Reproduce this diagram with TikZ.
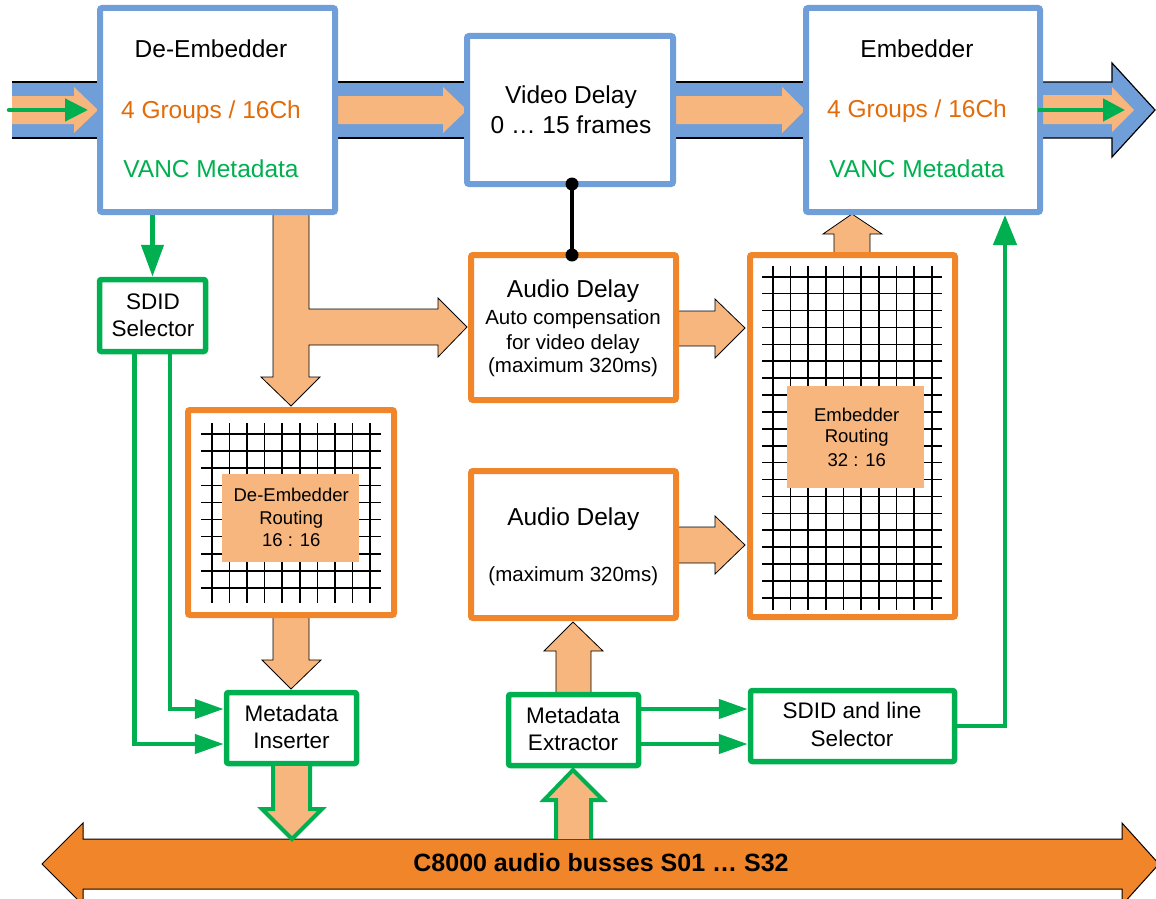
\documentclass[tikz,border=0pt]{standalone}
\usepackage{fontspec}
\setmainfont{Liberation Sans}
\usetikzlibrary{arrows.meta,calc}
\definecolor{cblue}{RGB}{112,158,216}
\definecolor{corange}{RGB}{241,133,41}
\definecolor{clorange}{RGB}{247,182,125}
\definecolor{cgreen}{RGB}{0,176,80}
\definecolor{ctorange}{RGB}{227,108,10}
\begin{document}
\begin{tikzpicture}[x=1pt,y=-1pt,
  bluebox/.style={draw=cblue,line width=6pt,fill=white,rounded corners=2pt,inner sep=0pt},
  orbox/.style={draw=corange,line width=6pt,fill=white,rounded corners=2pt,inner sep=0pt},
  grbox/.style={draw=cgreen,line width=5.5pt,fill=white,rounded corners=2pt,inner sep=0pt},
  lablbox/.style={fill=clorange,inner sep=0pt},
  fatarrow/.style={fill=clorange,draw=black,line width=0.8pt,line join=miter},
  garrow/.style={draw=cgreen,line width=4.5pt},
  gridline/.style={line width=1.6pt,black},
  bandedge/.style={line width=1.2pt,black},
  txtL/.style={anchor=base,inner sep=0pt,font=\fontsize{24.5}{29}\selectfont},
  txtM/.style={anchor=base,inner sep=0pt,font=\fontsize{22.5}{27}\selectfont},
  txtS/.style={anchor=base,inner sep=0pt,font=\fontsize{20.5}{25}\selectfont},
  txtR/.style={anchor=base,inner sep=0pt,font=\fontsize{18.5}{22}\selectfont},
  txtB/.style={anchor=base,inner sep=0pt,font=\fontsize{25}{30}\selectfont\bfseries}
]
\useasboundingbox (0,0) rectangle (1156,899);

% ---- video bands
\fill[cblue] (12,82) rectangle (100,138);
\draw[bandedge] (12,82) -- (100,82) (12,138) -- (100,138);
\fill[cblue] (335,82) rectangle (467,138);
\draw[bandedge] (335,82) -- (467,82) (335,138) -- (467,138);
\fill[cblue] (673,82) rectangle (806,138);
\draw[bandedge] (673,82) -- (806,82) (673,138) -- (806,138);
\filldraw[fill=cblue,draw=black,line width=1.2pt,line join=miter]
  (1040,82) -- (1112,82) -- (1112,63) -- (1155,110) -- (1112,157) -- (1112,138) -- (1040,138);

% ---- orange audio arrows in bands
\fill[clorange] (12,96) -- (74,96) -- (74,87) -- (98,110) -- (74,133) -- (74,124) -- (12,124) -- cycle;
\fill[clorange] (335,96) -- (443,96) -- (443,87) -- (467,110) -- (443,133) -- (443,124) -- (335,124) -- cycle;
\fill[clorange] (673,96) -- (782,96) -- (782,87) -- (805,110) -- (782,133) -- (782,124) -- (673,124) -- cycle;
\fill[clorange] (1040,95) -- (1112,95) -- (1112,87) -- (1134,110) -- (1112,132) -- (1112,124) -- (1040,124) -- cycle;

% ---- fat orange arrows
\draw[fatarrow] (273,212) -- (273,377) -- (261,377) -- (291,406) -- (320,377) -- (309,377) -- (309,345)
  -- (438,345) -- (438,357) -- (467,327) -- (438,298) -- (438,309) -- (309,309) -- (309,212) -- cycle;
\draw[fatarrow] (273,612) -- (273,660) -- (262,660) -- (291,689) -- (321,660) -- (309,660) -- (309,612) -- cycle;
\draw[fatarrow] (673,311) -- (715,311) -- (715,299) -- (745,328) -- (715,358) -- (715,346) -- (673,346) -- cycle;
\draw[fatarrow] (673,527) -- (715,527) -- (715,516) -- (745,545) -- (715,574) -- (715,563) -- (673,563) -- cycle;
\draw[fatarrow] (834,258) -- (834,234) -- (823,234) -- (852,214) -- (882,234) -- (870,234) -- (870,258) -- cycle;
\draw[fatarrow] (556,697) -- (556,651) -- (544,651) -- (573,622) -- (603,651) -- (591,651) -- (591,697) -- cycle;

% ---- boxes
\node[bluebox,minimum width=235pt,minimum height=204pt] (deemb) at (217.5,110) {};
\node[bluebox,minimum width=206pt,minimum height=148pt] (vdelay) at (570,110) {};
\node[bluebox,minimum width=234pt,minimum height=204pt] (emb) at (923,110) {};
\node[grbox,minimum width=106pt,minimum height=72pt] (sdid) at (152.5,315.5) {};
\node[orbox,minimum width=205pt,minimum height=145pt] (adel1) at (573.5,327.5) {};
\node[orbox,minimum width=205pt,minimum height=147pt] (adel2) at (573.5,544.5) {};
\node[orbox,minimum width=206pt,minimum height=205pt] (derout) at (291,512.5) {};
\node[orbox,minimum width=205pt,minimum height=362pt] (embrout) at (852.5,436) {};
\node[grbox,minimum width=130pt,minimum height=71pt] (minsert) at (291.5,728) {};
\node[grbox,minimum width=130pt,minimum height=71pt] (mextract) at (573.5,730) {};
\node[grbox,minimum width=204pt,minimum height=71pt] (sdidline) at (852.5,726) {};

% ---- routing grids
\foreach \i in {0,...,9} \draw[gridline] ({212+17.55*\i},423) -- ({212+17.55*\i},603);
\foreach \j in {0,...,9} \draw[gridline] (201,{434+17.1*\j}) -- (381,{434+17.1*\j});
\foreach \i in {0,...,9} \draw[gridline] ({772.7+17.67*\i},266) -- ({772.7+17.67*\i},610);
\foreach \j in {0,...,19} \draw[gridline] (762,{276.7+16.9*\j}) -- (942,{276.7+16.9*\j});
\node[lablbox,minimum width=137pt,minimum height=88pt] (derlab) at (290.5,518) {};
\node[lablbox,minimum width=137pt,minimum height=102pt] (embrlab) at (855.5,437) {};

% ---- texts
\node[txtL] (t1) at (211,58) {De-Embedder};
\node[txtL,text=ctorange] (t2) at (211,118) {4 Groups / 16Ch};
\node[txtL,text=cgreen] (t3) at (211,177) {VANC Metadata};
\node[txtL] (t4) at (917,58) {Embedder};
\node[txtL,text=ctorange] (t5) at (917,117) {4 Groups / 16Ch};
\node[txtL,text=cgreen] (t6) at (917,177) {VANC Metadata};
\node[txtL] (t7) at (571,103.3) {Video Delay};
\node[txtL] (t8) at (571,133.3) {0 … 15 frames};
\node[txtL] (t9) at (573,297.7) {Audio Delay};
\node[txtS] (t10) at (573,324) {Auto compensation};
\node[txtS] (t11) at (573,349.3) {for video delay};
\node[txtS] (t12) at (573,372.7) {(maximum 320ms)};
\node[txtL] (t13) at (573.3,525) {Audio Delay};
\node[txtS] (t14) at (573.3,581) {(maximum 320ms)};
\node[txtM] (t15) at (153,309) {SDID};
\node[txtM] (t16) at (153,336) {Selector};
\node[txtM] (t17) at (291.5,721.7) {Metadata};
\node[txtM] (t18) at (291.5,748.3) {Inserter};
\node[txtM] (t19) at (573,723.3) {Metadata};
\node[txtM] (t20) at (573,750.7) {Extractor};
\node[txtM] (t21) at (852,718.3) {SDID and line};
\node[txtM] (t22) at (852,746.7) {Selector};
\node[txtR] (t23) at (291.2,501.7) {De-Embedder};
\node[txtR] (t24) at (291.2,524) {Routing};
\node[txtR] (t25) at (291.2,546.7) {16 : 16};
\node[txtR] (t26) at (856.7,421) {Embedder};
\node[txtR] (t27) at (856.7,442.7) {Routing};
\node[txtR] (t28) at (856.7,466) {32 : 16};

% ---- green connectors
\coordinate (gin) at (9,110);
\coordinate (ginend) at (88,110);
\coordinate (gout) at (1038,110);
\coordinate (goutend) at (1125,110);
\coordinate (embin) at (1005,0);
\draw[garrow,line cap=round,-{Triangle[length=23pt,width=22pt]}] (gin) -- (ginend);
\draw[garrow,-{Triangle[length=22pt,width=22pt]}] (gout) -- (goutend);
\draw[garrow,-{Triangle[length=32pt,width=22pt]}] (deemb.south -| sdid.north) -- (sdid.north);
\draw[garrow,-{Triangle[length=29pt,width=19pt]}] ([xshift=17.5pt]sdid.south) |- ([yshift=19pt]minsert.west);
\draw[garrow,-{Triangle[length=29pt,width=19pt]}] ([xshift=-18pt]sdid.south) |- ([yshift=-16pt]minsert.west);
\coordinate (me1) at ([yshift=21pt]mextract.east);
\coordinate (me2) at ([yshift=-14pt]mextract.east);
\draw[garrow,-{Triangle[length=29pt,width=19pt]}] (me1) -- (me1 -| sdidline.west);
\draw[garrow,-{Triangle[length=29pt,width=19pt]}] (me2) -- (me2 -| sdidline.west);
\draw[garrow,-{Triangle[length=30pt,width=23pt]}] (sdidline.east) -| (emb.south -| embin);

% ---- video/audio delay link
\coordinate (lk1) at (572,184);
\coordinate (lk2) at (572,255);
\draw[line width=4pt] (lk1) -- (lk2);
\fill (lk1) circle[radius=6.5pt];
\fill (lk2) circle[radius=6.5pt];

% ---- audio bus
\draw[fill=corange,draw=black,line width=1pt,line join=miter]
  (42,864) -- (83,823) -- (83,839) -- (1122,839) -- (1122,823) -- (1159,864)
  -- (1122,905) -- (1122,889) -- (83,889) -- (83,905) -- cycle;
\node[txtB] (bus) at (601,871.7) {C8000 audio busses S01 … S32};

% ---- bus arrows (green outlined)
\fill[clorange] (273,766) -- (273,809) -- (262,809) -- (292,839) -- (322,809) -- (310,809) -- (310,766) -- cycle;
\draw[draw=cgreen,line width=4pt,line join=miter] (273,766) -- (273,809) -- (262,809) -- (292,839) -- (322,809) -- (310,809) -- (310,766);
\fill[clorange] (556,839) -- (556,800) -- (544,800) -- (573,770) -- (603,800) -- (591,800) -- (591,839) -- cycle;
\draw[draw=cgreen,line width=4pt,line join=miter] (556,839) -- (556,800) -- (544,800) -- (573,770) -- (603,800) -- (591,800) -- (591,839);
\end{tikzpicture}
\end{document}
